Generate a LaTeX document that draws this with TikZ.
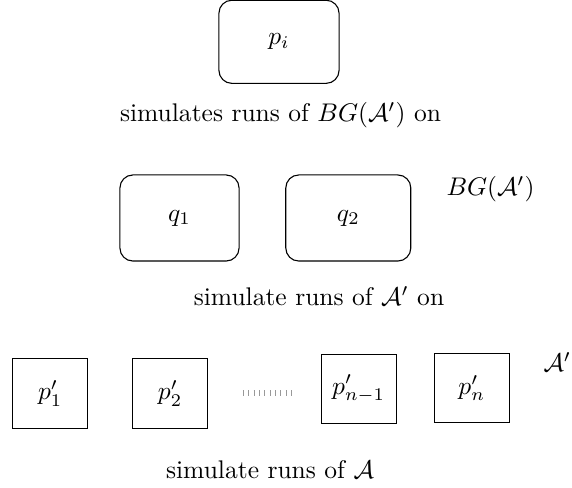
\documentclass[tikz,border=0pt]{standalone}
\usepackage{amsmath}
\begin{document}
\begin{tikzpicture}[x=0.392pt,y=-0.392pt,
  rbox/.style={draw,line width=0.43pt,rounded corners=5.1pt,inner sep=0pt,minimum height=33.75pt},
  sbox/.style={draw,line width=0.43pt,inner sep=0pt,minimum width=29.4pt,minimum height=27.1pt},
  lbl/.style={inner sep=0pt,anchor=base},
  side/.style={inner sep=0pt,anchor=base west},
  dotsline/.style={draw=black!40,line width=2.36pt,dash pattern=on 0.34pt off 1.76pt}]
\useasboundingbox (0,0) rectangle (572,488);
\node[rbox,minimum width=47.1pt,minimum height=32.6pt] (pi) at (279,41.8) {$p_i$};
\node[lbl] (t1) at (280.5,122) {simulates runs of $BG(\mathcal{A}')$ on};
\node[rbox,minimum width=46.7pt] (q1) at (179.5,218) {$q_1$};
\node[rbox,minimum width=49pt] (q2) at (348.3,218) {$q_2$};
\node[side] (bg) at (446,196) {$BG(\mathcal{A}')$};
\node[lbl] (t2) at (319,306) {simulate runs of $\mathcal{A}'$ on};
\node[sbox] (p1) at (50.2,393.5) {$p'_1$};
\node[sbox] (p2) at (170.1,393.5) {$p'_2$};
\node[sbox] (pn1) at (358.6,388.7) {$p'_{n-1}$};
\node[sbox] (pn) at (471.8,388) {$p'_n$};
\node[side] (ap) at (543,371.7) {$\mathcal{A}'$};
\coordinate (d1) at (243,393);
\coordinate (d2) at (292,393);
\path[dotsline] (d1) -- (d2);
\node[lbl] (t3) at (270,479) {simulate runs of $\mathcal{A}$};
\end{tikzpicture}
\end{document}
